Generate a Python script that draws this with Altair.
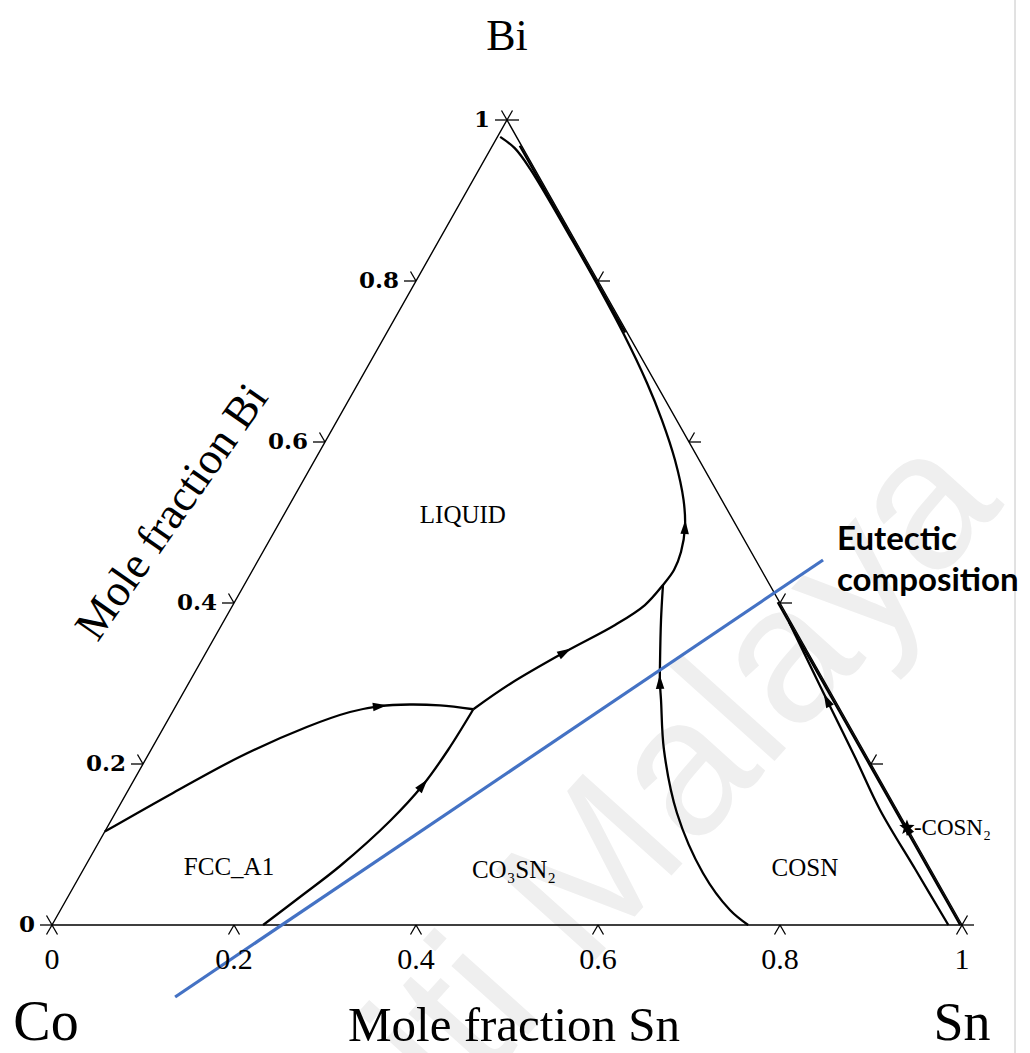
import math
import altair as alt
import pandas as pd

# ------------------------------------------------------------------
# Data: compositions as mole fractions (x_Sn, x_Bi); x_Co = 1 - Sn - Bi
# ------------------------------------------------------------------
tick_values = [0, 0.2, 0.4, 0.6, 0.8, 1]
tick_labels = ["0", "0.2", "0.4", "0.6", "0.8", "1"]

corner_sn = [0, 1, 0, 0]
corner_bi = [0, 0, 1, 0]

# FCC_A1 / LIQUID
curve_a_sn = [0.000, 0.051, 0.102, 0.157, 0.1952, 0.2244, 0.2564, 0.290, 0.329]
curve_a_bi = [0.116, 0.164, 0.209, 0.246, 0.2646, 0.272, 0.2739, 0.2727, 0.268]
# FCC_A1 / CO3SN2
curve_b_sn = [0.232, 0.2551, 0.2799, 0.3068, 0.3207, 0.3265, 0.329]
curve_b_bi = [0.000, 0.0348, 0.0733, 0.1292, 0.1739, 0.2174, 0.268]
# LIQUID / CO3SN2, then LIQUID / COSN up to the Bi corner
curve_c_sn = [0.329, 0.3536, 0.3941, 0.4324, 0.4528, 0.4602, 0.463, 0.4595, 0.4484,
              0.430, 0.3958, 0.3566, 0.3172, 0.260, 0.202, 0.146, 0.055, 0.026, 0.003]
curve_c_bi = [0.268, 0.2994, 0.3391, 0.3727, 0.3975, 0.4224, 0.441, 0.4634, 0.4944,
              0.528, 0.5776, 0.6273, 0.6733, 0.7354, 0.795, 0.851, 0.940, 0.965, 0.979]
# CO3SN2 / COSN
curve_f_sn = [0.765, 0.7357, 0.683, 0.6172, 0.5638, 0.5295, 0.517, 0.5054, 0.4798, 0.4602]
curve_f_bi = [0.000, 0.0186, 0.0646, 0.1391, 0.2174, 0.2795, 0.302, 0.3255, 0.3789, 0.4224]
# COSN / COSN2
curve_e_sn = [0.985, 0.915, 0.8385, 0.778, 0.7118, 0.6598, 0.622]
curve_e_bi = [0.000, 0.0683, 0.1429, 0.2087, 0.2795, 0.3354, 0.376]
# lines running along the Bi-Sn side
curve_g_sn = [0.030, 0.100, 0.180, 0.262]
curve_g_bi = [0.968, 0.898, 0.818, 0.736]
curve_d_sn = [0.597, 0.700, 0.800, 0.879, 0.950, 0.998]
curve_d_bi = [0.401, 0.298, 0.198, 0.119, 0.048, 0.000]

eutectic_sn = [0.180, 0.6206]
eutectic_bi = [-0.0894, 0.4534]

cosn2_sn = [0.879]
cosn2_bi = [0.121]

region_names = ["LIQUID", "FCC_A1", "CO\u2083SN\u2082", "COSN"]
region_sn = [0.197, 0.1585, 0.4735, 0.792]
region_bi = [0.509, 0.072, 0.0683, 0.0708]

# arrowheads: (curve, index of point)
arrows = [("A", 5), ("B", 4), ("C", 2), ("C", 8), ("F", 6), ("E", 4)]

# ------------------------------------------------------------------
# Layout
# ------------------------------------------------------------------
W, H = 1030, 1053
X0, Y0 = 52, 925        # pixel position of the Co corner
SX, SY = 910, 805       # pixels per unit of X and of Bi

xs = alt.Scale(domain=[-X0 / SX, (W - X0) / SX], nice=False, zero=False)
ys = alt.Scale(domain=[-(H - Y0) / SY, Y0 / SY], nice=False, zero=False)
XE = alt.X("X:Q", scale=xs, axis=None)
YE = alt.Y("Y:Q", scale=ys, axis=None)

SERIF = "Liberation Serif, Times New Roman, DejaVu Serif, serif"


def to_df(sn, bi, **extra):
    df = pd.DataFrame({"Sn": sn, "Bi": bi})
    df["X"] = df["Sn"] + df["Bi"] / 2
    df["Y"] = df["Bi"]
    for k, v in extra.items():
        df[k] = v
    return df


curves = {
    "A": (curve_a_sn, curve_a_bi),
    "B": (curve_b_sn, curve_b_bi),
    "C": (curve_c_sn, curve_c_bi),
    "F": (curve_f_sn, curve_f_bi),
    "E": (curve_e_sn, curve_e_bi),
    "G": (curve_g_sn, curve_g_bi),
    "D": (curve_d_sn, curve_d_bi),
}

frames = []
for name, (sn, bi) in curves.items():
    d = to_df(sn, bi, curve=name)
    d["i"] = range(len(d))
    frames.append(d)
curve_df = pd.concat(frames, ignore_index=True)

edge_df = to_df(corner_sn, corner_bi)
edge_df["i"] = range(len(edge_df))

# arrow directions (in screen space)
arrow_rows = []
for name, idx in arrows:
    sn, bi = curves[name]
    p0 = (sn[idx - 1] + bi[idx - 1] / 2, bi[idx - 1])
    p1 = (sn[idx + 1] + bi[idx + 1] / 2, bi[idx + 1])
    dx = (p1[0] - p0[0]) * SX
    dup = (p1[1] - p0[1]) * SY
    ang = math.degrees(math.atan2(dx, dup)) % 360
    arrow_rows.append({"X": sn[idx] + bi[idx] / 2, "Y": bi[idx], "angle": ang})
# arrow on the Bi-Sn side at the COSN2 point, pointing towards Bi
edge_ang = math.degrees(math.atan2(-0.5 * SX, 1.0 * SY)) % 360
arrow_rows.append({"X": cosn2_sn[0] + cosn2_bi[0] / 2, "Y": cosn2_bi[0], "angle": edge_ang})
arrow_df = pd.DataFrame(arrow_rows)

bottom_ticks = to_df(tick_values, [0] * len(tick_values), label=tick_labels)
left_ticks = to_df([0] * len(tick_values), tick_values, label=tick_labels)
right_ticks = to_df([1 - t for t in tick_values], tick_values)

ARROW = "M0,-1L0.6,1L-0.6,1Z"
star_pts = []
for k in range(10):
    r = 1.0 if k % 2 == 0 else 0.42
    a = math.radians(-90 + 36 * k)
    star_pts.append(f"{r * math.cos(a):.3f},{r * math.sin(a):.3f}")
STAR = "M" + "L".join(star_pts) + "Z"


def tick_layer(df, dx, dy):
    return alt.Chart(df).mark_rule(
        color="black", strokeWidth=1.3, x2Offset=dx, y2Offset=dy
    ).encode(x=XE, y=YE, x2=alt.X2("X"), y2=alt.Y2("Y"))


one = pd.DataFrame({"k": [0]})

watermark = alt.Chart(one).mark_text(
    text="Universiti Malaya", font="Liberation Sans, Arial, sans-serif",
    fontSize=195, color="#efefef", align="right", baseline="alphabetic", angle=312
).encode(x=alt.value(1005), y=alt.value(505))

border = alt.Chart(one).mark_rule(color="#c4c4c4", strokeWidth=1).encode(
    x=alt.value(1015), y=alt.value(0), y2=alt.value(H))

edges = alt.Chart(edge_df).mark_line(color="black", strokeWidth=1.4).encode(
    x=XE, y=YE, order="i:Q")

thick = alt.Chart(curve_df).mark_line(
    color="black", strokeWidth=2.3, interpolate="catmull-rom"
).encode(x=XE, y=YE, detail="curve:N", order="i:Q")

eutectic = alt.Chart(to_df(eutectic_sn, eutectic_bi)).mark_line(
    color="#4472C4", strokeWidth=3.2).encode(x=XE, y=YE)

arrow_marks = alt.Chart(arrow_df).mark_point(
    shape=ARROW, filled=True, size=200, color="black", opacity=1
).encode(x=XE, y=YE, angle=alt.Angle("angle:Q", scale=None))

star = alt.Chart(to_df(cosn2_sn, cosn2_bi)).mark_point(
    shape=STAR, filled=True, size=260, color="black", opacity=1
).encode(x=XE, y=YE)

cosn2_label = alt.Chart(to_df(cosn2_sn, cosn2_bi)).mark_text(
    text="-COSN\u2082", font=SERIF, fontSize=23, align="left", baseline="middle", dx=7
).encode(x=XE, y=YE)

bottom_labels = alt.Chart(bottom_ticks).mark_text(
    font=SERIF, fontSize=30, align="center", baseline="alphabetic", dy=44
).encode(x=XE, y=YE, text="label:N")

left_labels = alt.Chart(left_ticks).mark_text(
    font="DejaVu Serif, serif", fontSize=23, fontWeight="bold",
    align="right", baseline="middle", dx=-17
).encode(x=XE, y=YE, text="label:N")

regions = alt.Chart(to_df(region_sn, region_bi, name=region_names)).mark_text(
    font=SERIF, fontSize=25, align="center", baseline="middle"
).encode(x=XE, y=YE, text="name:N")

titles_df = pd.DataFrame({
    "t": ["Bi", "Co", "Sn", "Mole fraction Sn"],
    "px": [507, 46, 962, 514],
    "py": [50, 1040, 1040, 1041],
    "fs": [44, 56, 54, 49],
})
titles = alt.Chart(titles_df).mark_text(
    font=SERIF, align="center", baseline="alphabetic"
).encode(
    x=alt.X("px:Q", scale=None), y=alt.Y("py:Q", scale=None),
    text="t:N", size=alt.Size("fs:Q", scale=None, legend=None))

bi_title = alt.Chart(one).mark_text(
    text="Mole fraction Bi", font=SERIF, fontSize=45, angle=305,
    align="center", baseline="middle"
).encode(x=alt.value(172), y=alt.value(512))

eut_label = alt.Chart(one).mark_text(
    text=["Eutectic", "composition"], font="Lato, Open Sans, sans-serif",
    fontSize=33, fontWeight="bold", align="left", baseline="alphabetic",
    lineHeight=41
).encode(x=alt.value(837), y=alt.value(550))

layers = [watermark, border, edges]
# bottom side ticks: "^" below the axis
layers += [tick_layer(bottom_ticks, -5.5, 9.5), tick_layer(bottom_ticks, 5.5, 9.5)]
# left side ticks: horizontal and up-left
layers += [tick_layer(left_ticks, -12, 0), tick_layer(left_ticks, -5.5, -9.5)]
# right side ticks: horizontal and up-right
layers += [tick_layer(right_ticks, 12, 0), tick_layer(right_ticks, 5.5, -9.5)]
layers += [thick, eutectic, arrow_marks, star, cosn2_label, bottom_labels,
           left_labels, regions, titles, bi_title, eut_label]

chart = alt.layer(*layers).properties(
    width=W, height=H, padding=0, autosize=alt.AutoSizeParams(type="none"),
    background="white"
).configure_view(stroke=None)

chart.save("out.html", embed_options={"renderer": "svg", "actions": False})
